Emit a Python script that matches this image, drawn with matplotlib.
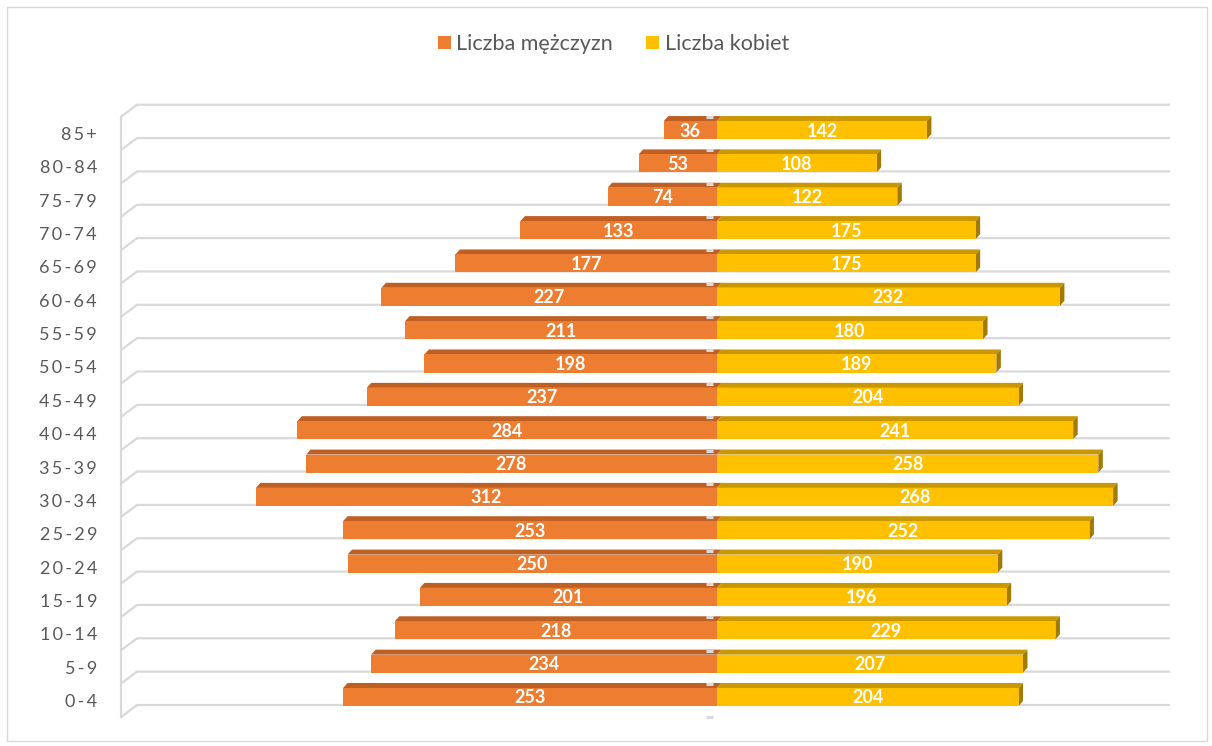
import matplotlib.pyplot as plt
import numpy as np
from matplotlib.patches import Polygon, Rectangle

# age groups bottom -> top
groups = ['0-4', '5-9', '10-14', '15-19', '20-24', '25-29', '30-34', '35-39', '40-44',
          '45-49', '50-54', '55-59', '60-64', '65-69', '70-74', '75-79', '80-84', '85+']
men = [253, 234, 218, 201, 250, 253, 312, 278, 284, 237, 198, 211, 227, 177, 133, 74, 53, 36]
women = [204, 207, 229, 196, 190, 252, 268, 258, 241, 204, 189, 180, 232, 175, 175, 122, 108, 142]

plt.rcParams['font.family'] = ['Lato', 'DejaVu Sans']

W, H = 1212, 746
fig = plt.figure(figsize=(W / 100, H / 100), dpi=100)

# axes box in pixels (plot wall), scale: 1.478 px per person, 33.35 px per row
left_px, right_px, top_px, bot_px = 121, 1170, 104, 717
zero_px = 717
ppu = 1.478
row = 33.35
xmin = (left_px - zero_px) / ppu
xmax = (right_px - zero_px) / ppu
ymin, ymax = -0.6, (697 - top_px) / row
ax = fig.add_axes([left_px / W, 1 - bot_px / H, (right_px - left_px) / W, (bot_px - top_px) / H])
ax.set_xlim(xmin, xmax)
ax.set_ylim(ymin, ymax)
ax.axis('off')

# 3d depth of the wall
dx_px, dy_px = 16, 12
ddx, ddy = dx_px / ppu, dy_px / row
grid_c = '#d9d9d9'
n = len(groups)
for k in range(n + 1):
    yf = k - 0.6
    ax.plot([xmin, xmin + ddx, xmax], [yf, yf + ddy, yf + ddy], color=grid_c, lw=1.6,
            zorder=1, solid_capstyle='butt', clip_on=False)
ax.plot([xmin, xmin], [-0.6, n - 0.6], color=grid_c, lw=1.6, zorder=1, clip_on=False)

y = np.arange(n)
h = 0.54
bdx, bdy = 4.5 / ppu, 5 / row
orange, orange_top = '#ED7D31', '#BE5F24'
gold, gold_top, gold_side = '#FFC000', '#C99800', '#A27A00'

bm = ax.barh(y, [-v for v in men], height=h, color=orange, zorder=4, label='Liczba mężczyzn')
bw = ax.barh(y, women, height=h, color=gold, zorder=4, label='Liczba kobiet')

for i in range(n):
    yt = y[i] + h / 2
    x0, x1 = -men[i], 0
    ax.add_patch(Polygon([(x0, yt), (x1, yt), (x1 + bdx, yt + bdy), (x0 + bdx, yt + bdy)],
                         closed=True, color=orange_top, zorder=3, lw=0))
    x0, x1 = 0, women[i]
    ax.add_patch(Polygon([(x0, yt), (x1, yt), (x1 + bdx, yt + bdy), (x0 + bdx, yt + bdy)],
                         closed=True, color=gold_top, zorder=3, lw=0))
    yb = y[i] - h / 2
    ax.add_patch(Polygon([(x1, yb), (x1 + bdx, yb + bdy), (x1 + bdx, yt + bdy), (x1, yt)],
                         closed=True, color=gold_side, zorder=3, lw=0))
    ax.text(-men[i] / 2, y[i] - 0.03, str(men[i]), ha='center', va='center', color='white',
            fontsize=13, fontweight='bold', zorder=6)
    ax.text(women[i] / 2, y[i] - 0.03, str(women[i]), ha='center', va='center', color='white',
            fontsize=13, fontweight='bold', zorder=6)

# little tick marks on the zero axis (on the top face of each bar + one at the floor)
tick_y = [yy + h / 2 + bdy * 0.8 for yy in y] + [-0.6]
for yk in tick_y:
    ax.plot([-11 / ppu, -4 / ppu], [yk, yk], color='#d9d9d9', lw=2.2, zorder=7,
            solid_capstyle='butt', clip_on=False)

# category labels
for i, g in enumerate(groups):
    ax.text(xmin - 24 / ppu, y[i] - 0.15, '\u2009'.join(g), ha='right', va='center',
            color='#595959', fontsize=13)

fig.legend(handles=[bm, bw], labels=['Liczba mężczyzn', 'Liczba kobiet'], loc='center',
           bbox_to_anchor=(0.506, 1 - 44 / H), ncol=2, frameon=False, fontsize=15.5,
           handlelength=0.6, handleheight=0.6, handletextpad=0.25, columnspacing=1.55,
           labelcolor='#595959')

fig.patches.append(Rectangle((7 / W, 5 / H), (W - 12) / W, (H - 12) / H, transform=fig.transFigure,
                             fill=False, edgecolor='#d9d9d9', lw=1))

fig.savefig('out.png', dpi=100, facecolor='white')
